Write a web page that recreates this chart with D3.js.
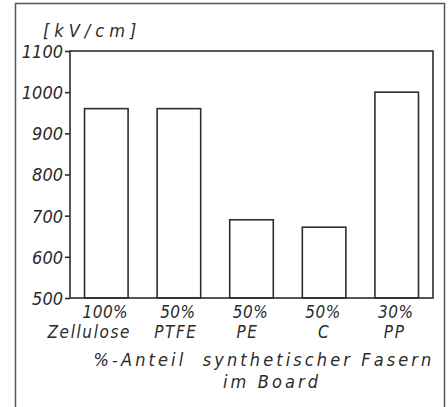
<!DOCTYPE html>
<html>
<head>
<meta charset="utf-8">
<script src="https://cdn.jsdelivr.net/npm/d3@7"></script>
<style>
  body { margin: 0; background: #fff; }
  text { font-family: 'DejaVu Sans Condensed', 'DejaVu Sans', sans-serif; font-stretch: condensed; font-style: italic; fill: #2a2a2a; }
</style>
</head>
<body>
<div id="chart"></div>
<script>
// values
const percents = ['100%', '50%', '50%', '50%', '30%']
const fibres = ['Zellulose', 'PTFE', 'PE', 'C', 'PP']
const strength = [960, 960, 690, 672, 1000]
const yTicks = [500, 600, 700, 800, 900, 1000, 1100]
const unitLabel = '[kV/cm]'
const titleLines = ['%-Anteil  synthetischer Fasern', 'im Board']

const width = 448
const height = 407
const margin = { top: 51, right: 15, bottom: 109, left: 70 }

const svg = d3.select('#chart')
  .append('svg')
  .attr('width', width)
  .attr('height', height)

// outer frame (bottom edge runs off the picture)
svg.append('path')
  .attr('d', `M15.5,${height + 2}V3.5H444.5V${height + 2}`)
  .attr('fill', 'none')
  .attr('stroke', '#555')
  .attr('stroke-width', 1.5)

const x = d3.scaleBand()
  .domain(fibres)
  .range([margin.left, width - margin.right])
  .paddingInner(0.4)
  .paddingOuter(0.2)

const y = d3.scaleLinear()
  .domain([500, 1100])
  .range([height - margin.bottom, margin.top])

const ink = '#2e2e2e'

// plot frame
svg.append('rect')
  .attr('x', margin.left)
  .attr('y', margin.top)
  .attr('width', width - margin.right - margin.left)
  .attr('height', height - margin.bottom - margin.top)
  .attr('fill', 'none')
  .attr('stroke', ink)
  .attr('stroke-width', 1.6)

const yAxis = svg.append('g')
  .attr('transform', `translate(${margin.left},0)`)
  .call(d3.axisLeft(y).tickValues(yTicks).tickSize(5).tickPadding(2).tickFormat(d3.format('d')))

yAxis.select('.domain').remove()
yAxis.selectAll('line').attr('stroke', ink).attr('stroke-width', 1.6)
yAxis.selectAll('text')
  .style('font-size', '18px')
  .attr('fill', '#2a2a2a')
  .attr('dy', '0.36em')

// bars
svg.selectAll('.bar')
  .data(strength)
  .enter()
  .append('rect')
  .attr('class', 'bar')
  .attr('x', (d, i) => x(fibres[i]))
  .attr('y', d => y(d))
  .attr('width', x.bandwidth())
  .attr('height', d => y(500) - y(d))
  .attr('fill', 'none')
  .attr('stroke', ink)
  .attr('stroke-width', 1.6)

// category labels, two lines each
const nudge = [-17, -3, -4, 0, -2]
svg.selectAll('.pct')
  .data(percents)
  .enter()
  .append('text')
  .attr('class', 'pct')
  .attr('x', (d, i) => x(fibres[i]) + x.bandwidth() / 2 - 1)
  .attr('y', 318)
  .attr('text-anchor', 'middle')
  .style('font-size', '17px')
  .style('letter-spacing', '0.5px')
  .text(d => d)

svg.selectAll('.fibre')
  .data(fibres)
  .enter()
  .append('text')
  .attr('class', 'fibre')
  .attr('x', (d, i) => x(d) + x.bandwidth() / 2 + nudge[i])
  .attr('y', 338)
  .attr('text-anchor', 'middle')
  .style('font-size', '17px')
  .style('letter-spacing', '1.6px')
  .text(d => d)

svg.append('text')
  .attr('x', 43)
  .attr('y', 37)
  .style('font-size', '18px')
  .style('letter-spacing', '5px')
  .text(unitLabel)

svg.selectAll('.title')
  .data(titleLines)
  .enter()
  .append('text')
  .attr('class', 'title')
  .attr('x', (d, i) => i === 0 ? 264 : 272)
  .attr('y', (d, i) => 366 + i * 22)
  .attr('text-anchor', 'middle')
  .style('font-size', '18px')
  .style('letter-spacing', '3.1px')
  .style('white-space', 'pre')
  .text(d => d)
</script>
</body>
</html>
